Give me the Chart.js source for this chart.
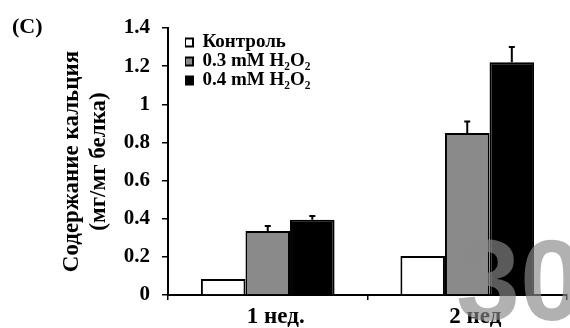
<!DOCTYPE html>
<html>
<head>
<meta charset="utf-8">
<script src="https://cdn.jsdelivr.net/npm/chart.js@4"></script>
<style>
  html, body { margin: 0; padding: 0; background: #fff; }
  #wrap { width: 570px; height: 328px; position: relative; }
</style>
</head>
<body>
<div id="wrap"><canvas id="chart"></canvas></div>
<script>
// Data
const categories = ['1 нед.', '2 нед'];
const seriesNames = ['Контроль', '0.3 mM H₂O₂', '0.4 mM H₂O₂'];
const controlValues = [0.084, 0.205];
const lowDoseValues = [0.336, 0.85];
const highDoseValues = [0.394, 1.22];
const controlErrors = [0, 0];
const lowDoseErrors = [0.026, 0.06];
const highDoseErrors = [0.02, 0.08];

const serif = '"Liberation Serif", "DejaVu Serif", serif';

// Upward-only error bars with a small cap
const errorBars = {
    id: 'errorBars',
    afterDatasetsDraw(chart) {
        const ctx = chart.ctx;
        const y = chart.scales.y;
        chart.data.datasets.forEach((ds, i) => {
            const meta = chart.getDatasetMeta(i);
            meta.data.forEach((bar, j) => {
                const err = ds.errors[j];
                if (!err) return;
                const top = y.getPixelForValue(ds.data[j] + err);
                ctx.save();
                ctx.strokeStyle = '#000';
                ctx.lineWidth = 2;
                ctx.beginPath();
                ctx.moveTo(bar.x, bar.y);
                ctx.lineTo(bar.x, top);
                ctx.moveTo(bar.x - 3, top);
                ctx.lineTo(bar.x + 3, top);
                ctx.stroke();
                ctx.restore();
            });
        });
    }
};

// Panel letter and the watermark
const extras = {
    id: 'extras',
    afterLayout(chart) {
        // put the legend in the top-left corner of the plot
        chart.legend.left = chart.chartArea.left + 17;
        chart.legend.top = chart.chartArea.top + 5;
    },
    afterDraw(chart) {
        const ctx = chart.ctx;
        ctx.save();
        ctx.fillStyle = '#000';
        ctx.font = 'bold 22px ' + serif;
        ctx.textBaseline = 'middle';
        ctx.fillText('(C)', 12, 27);
        ctx.fillStyle = 'rgba(136, 136, 136, 0.66)';
        ctx.font = 'bold 115px "Liberation Sans", Arial, sans-serif';
        ctx.textBaseline = 'alphabetic';
        ctx.fillText('30', 456, 320);
        ctx.restore();
    }
};

new Chart(document.getElementById('chart'), {
    type: 'bar',
    data: {
        labels: categories,
        datasets: [
            {
                label: seriesNames[0],
                data: controlValues,
                errors: controlErrors,
                backgroundColor: '#ffffff',
                borderColor: '#000000',
                borderWidth: 2
            },
            {
                label: seriesNames[1],
                data: lowDoseValues,
                errors: lowDoseErrors,
                backgroundColor: '#8a8a8a',
                borderColor: '#000000',
                borderWidth: 2
            },
            {
                label: seriesNames[2],
                data: highDoseValues,
                errors: highDoseErrors,
                backgroundColor: '#000000',
                borderColor: '#000000',
                borderWidth: 2
            }
        ]
    },
    options: {
        responsive: true,
        maintainAspectRatio: false,
        animation: false,
        categoryPercentage: 0.67,
        barPercentage: 1.0,
        layout: { padding: { top: 28, left: 13, right: 3, bottom: 0 } },
        plugins: {
            tooltip: { enabled: false },
            legend: {
                position: 'chartArea',
                align: 'start',
                labels: {
                    color: '#000',
                    boxWidth: 8,
                    boxHeight: 8,
                    padding: 0,
                    font: { family: serif, size: 19, weight: 'bold', lineHeight: 1.05 }
                }
            }
        },
        scales: {
            x: {
                afterFit: (scale) => { scale.height = 33; },
                border: { display: true, color: '#000', width: 2 },
                grid: { display: true, drawOnChartArea: false, tickLength: 5, color: '#000', lineWidth: 1.5 },
                ticks: {
                    color: '#000',
                    padding: 3,
                    labelOffset: 8,
                    font: { family: serif, size: 23, weight: 'bold' }
                }
            },
            y: {
                min: 0,
                max: 1.4,
                afterFit: (scale) => { scale.width = 155; },
                border: { display: true, color: '#000', width: 2 },
                grid: { display: true, drawOnChartArea: false, tickLength: 6, color: '#000', lineWidth: 1.5 },
                ticks: {
                    stepSize: 0.2,
                    color: '#000',
                    padding: 12,
                    font: { family: serif, size: 21, weight: 'bold' },
                    callback: (value) => String(Math.round(value * 10) / 10)
                },
                title: {
                    display: true,
                    text: ['Содержание кальция', '(мг/мг белка)'],
                    color: '#000',
                    padding: { top: 46, bottom: 0 },
                    font: { family: serif, size: 23, weight: 'bold', lineHeight: 1.17 }
                }
            }
        }
    },
    plugins: [errorBars, extras]
});
</script>
</body>
</html>
